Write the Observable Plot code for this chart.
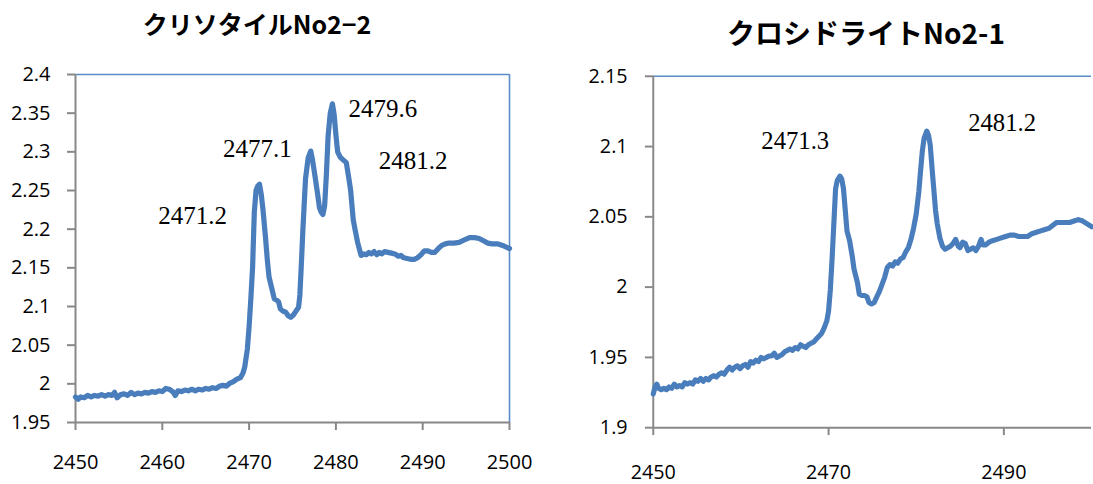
<!DOCTYPE html>
<html>
<head>
<meta charset="utf-8">
<script src="https://cdn.jsdelivr.net/npm/d3@7"></script>
<script src="https://cdn.jsdelivr.net/npm/@observablehq/plot@0.6"></script>
<style>
  html, body { margin: 0; padding: 0; background: #fff; }
  #root { position: relative; width: 1093px; height: 484px; overflow: hidden; background: #fff; }
  .title { position: absolute; text-align: center; font-family: "Noto Sans CJK JP", "Noto Sans", sans-serif; font-weight: bold; color: #000; line-height: 1; white-space: nowrap; }
  .panel { position: absolute; }
</style>
</head>
<body>
<div id="root">
  <div class="title" id="titleA"></div>
  <div class="title" id="titleB"></div>
  <div class="panel" id="panelA"></div>
  <div class="panel" id="panelB"></div>
</div>
<script>
// Sulfur K-edge XANES spectra: photon energy (eV) vs. normalised absorbance

// --- Chrysotile No2-2 ---
const titleA = "クリソタイルNo2−2";
const chrysotileEnergy = [
  2450.0, 2450.3, 2450.6, 2451.0, 2451.4, 2451.8, 2452.2, 2452.6, 2453.0, 2453.4,
  2453.8, 2454.2, 2454.5, 2454.8, 2455.2, 2455.6, 2456.0, 2456.4, 2456.8, 2457.2,
  2457.6, 2458.0, 2458.4, 2458.8, 2459.2, 2459.6, 2460.0, 2460.4, 2460.8, 2461.2,
  2461.5, 2461.8, 2462.2, 2462.6, 2463.0, 2463.4, 2463.8, 2464.2, 2464.6, 2465.0,
  2465.4, 2465.8, 2466.2, 2466.6, 2467.0, 2467.4, 2467.8, 2468.2, 2468.6, 2469.0,
  2469.3, 2469.5, 2469.8, 2470.0, 2470.2, 2470.4, 2470.6, 2470.8, 2471.0, 2471.2,
  2471.4, 2471.6, 2471.9, 2472.1, 2472.3, 2472.6, 2472.9, 2473.2, 2473.4, 2473.6,
  2473.9, 2474.2, 2474.5, 2474.8, 2475.1, 2475.4, 2475.7, 2475.85, 2476.0, 2476.2,
  2476.5, 2476.8, 2477.1, 2477.3, 2477.6, 2477.9, 2478.1, 2478.3, 2478.5, 2478.7,
  2478.9, 2479.1, 2479.35, 2479.6, 2479.8, 2480.0, 2480.2, 2480.5, 2480.8, 2481.0,
  2481.2, 2481.5, 2481.7, 2482.0, 2482.2, 2482.5, 2482.9, 2483.2, 2483.5, 2483.8,
  2484.1, 2484.4, 2484.7, 2485.0, 2485.3, 2485.6, 2486.0, 2486.4, 2486.8, 2487.2,
  2487.5, 2487.8, 2488.2, 2488.6, 2489.0, 2489.4, 2489.8, 2490.2, 2490.6, 2491.0,
  2491.4, 2491.8, 2492.2, 2492.6, 2493.0, 2493.6, 2494.2, 2494.8, 2495.4, 2496.0,
  2496.5, 2497.0, 2497.5, 2498.0, 2498.6, 2499.2, 2500.0
];
const chrysotileAbs = [
  1.983, 1.980, 1.983, 1.982, 1.985, 1.983, 1.985, 1.984, 1.986, 1.984,
  1.986, 1.985, 1.989, 1.982, 1.986, 1.987, 1.985, 1.989, 1.986, 1.988,
  1.987, 1.989, 1.988, 1.990, 1.989, 1.991, 1.990, 1.994, 1.993, 1.990,
  1.985, 1.991, 1.990, 1.992, 1.991, 1.993, 1.991, 1.993, 1.992, 1.994,
  1.993, 1.995, 1.994, 1.997, 1.998, 1.997, 2.001, 2.003, 2.006, 2.008,
  2.014, 2.022, 2.045, 2.074, 2.110, 2.150, 2.222, 2.250, 2.256, 2.258,
  2.245, 2.225, 2.188, 2.160, 2.138, 2.124, 2.110, 2.108, 2.106, 2.097,
  2.094, 2.093, 2.088, 2.086, 2.089, 2.094, 2.099, 2.115, 2.150, 2.200,
  2.265, 2.292, 2.301, 2.290, 2.268, 2.245, 2.228, 2.222, 2.219, 2.230,
  2.270, 2.320, 2.350, 2.362, 2.348, 2.322, 2.300, 2.293, 2.290, 2.288,
  2.286, 2.265, 2.250, 2.212, 2.200, 2.183, 2.166, 2.168, 2.167, 2.170,
  2.168, 2.171, 2.167, 2.170, 2.168, 2.171, 2.170, 2.169, 2.168, 2.165,
  2.166, 2.163, 2.162, 2.161, 2.161, 2.163, 2.167, 2.172, 2.172, 2.170,
  2.170, 2.175, 2.179, 2.181, 2.182, 2.182, 2.183, 2.186, 2.189, 2.189,
  2.188, 2.185, 2.182, 2.181, 2.181, 2.179, 2.175
];
// peak energies and where their labels sit
const chrysotilePeaks = [2471.2, 2477.1, 2479.6, 2481.2];
const chrysotileLabelX = [2463.5, 2470.95, 2485.4, 2488.9];
const chrysotileLabelY = [2.217, 2.304, 2.355, 2.288];
const xTicksA = [2450, 2460, 2470, 2480, 2490, 2500];
const yTicksA = [1.95, 2, 2.05, 2.1, 2.15, 2.2, 2.25, 2.3, 2.35, 2.4];

// --- Crocidolite No2-1 ---
const titleB = "クロシドライトNo2-1";
const crocidoliteEnergy = [
  2450.0, 2450.2, 2450.4, 2450.6, 2450.9, 2451.2, 2451.5, 2451.8, 2452.1, 2452.4,
  2452.7, 2453.0, 2453.3, 2453.6, 2453.9, 2454.2, 2454.5, 2454.8, 2455.1, 2455.4,
  2455.7, 2456.0, 2456.3, 2456.6, 2456.9, 2457.2, 2457.5, 2457.8, 2458.1, 2458.4,
  2458.7, 2459.0, 2459.3, 2459.6, 2459.9, 2460.2, 2460.5, 2460.8, 2461.1, 2461.4,
  2461.7, 2462.0, 2462.3, 2462.6, 2462.9, 2463.2, 2463.5, 2463.8, 2464.1, 2464.4,
  2464.7, 2465.0, 2465.3, 2465.6, 2465.9, 2466.2, 2466.5, 2466.8, 2467.1, 2467.4,
  2467.7, 2468.0, 2468.3, 2468.6, 2468.9, 2469.2, 2469.5, 2469.8, 2470.0, 2470.2,
  2470.4, 2470.6, 2470.8, 2471.0, 2471.3, 2471.5, 2471.7, 2471.9, 2472.1, 2472.4,
  2472.7, 2472.9, 2473.1, 2473.3, 2473.5, 2473.8, 2474.1, 2474.4, 2474.6, 2474.9,
  2475.2, 2475.5, 2475.8, 2476.1, 2476.4, 2476.7, 2477.0, 2477.3, 2477.6, 2477.9,
  2478.2, 2478.5, 2478.8, 2479.1, 2479.4, 2479.7, 2480.0, 2480.3, 2480.5, 2480.7,
  2480.9, 2481.2, 2481.4, 2481.6, 2481.8, 2482.0, 2482.2, 2482.4, 2482.7, 2483.0,
  2483.3, 2483.6, 2483.9, 2484.2, 2484.5, 2484.8, 2485.0, 2485.3, 2485.6, 2485.9,
  2486.2, 2486.5, 2486.8, 2487.1, 2487.4, 2487.6, 2487.9, 2488.3, 2488.7, 2489.2,
  2489.7, 2490.2, 2490.7, 2491.2, 2491.7, 2492.2, 2492.7, 2493.2, 2493.7, 2494.2,
  2494.7, 2495.2, 2495.6, 2496.0, 2496.5, 2497.0, 2497.5, 2498.0, 2498.5, 2499.0,
  2499.5, 2500.0
];
const crocidoliteAbs = [
  1.924, 1.929, 1.931, 1.928, 1.927, 1.928, 1.927, 1.929, 1.928, 1.931,
  1.929, 1.930, 1.929, 1.932, 1.931, 1.932, 1.931, 1.934, 1.933, 1.935,
  1.933, 1.935, 1.934, 1.936, 1.937, 1.936, 1.938, 1.939, 1.938, 1.941,
  1.943, 1.941, 1.943, 1.944, 1.942, 1.944, 1.945, 1.943, 1.947, 1.946,
  1.948, 1.947, 1.950, 1.949, 1.950, 1.951, 1.951, 1.953, 1.950, 1.951,
  1.952, 1.954, 1.955, 1.956, 1.955, 1.957, 1.956, 1.959, 1.958, 1.957,
  1.959, 1.960, 1.961, 1.963, 1.965, 1.967, 1.971, 1.976, 1.983, 1.998,
  2.020, 2.045, 2.070, 2.076, 2.079, 2.077, 2.070, 2.055, 2.040, 2.033,
  2.022, 2.013, 2.008, 2.003, 1.995, 1.994, 1.994, 1.993, 1.989, 1.988,
  1.989, 1.993, 1.997, 2.002, 2.007, 2.014, 2.016, 2.015, 2.018, 2.017,
  2.020, 2.021, 2.025, 2.028, 2.034, 2.042, 2.052, 2.068, 2.083, 2.097,
  2.106, 2.111, 2.108, 2.101, 2.085, 2.070, 2.055, 2.045, 2.035, 2.029,
  2.027, 2.028, 2.029, 2.031, 2.034, 2.029, 2.028, 2.032, 2.031, 2.026,
  2.027, 2.028, 2.026, 2.029, 2.034, 2.030, 2.030, 2.032, 2.033, 2.034,
  2.035, 2.036, 2.037, 2.037, 2.036, 2.036, 2.036, 2.038, 2.039, 2.040,
  2.041, 2.042, 2.044, 2.046, 2.046, 2.046, 2.046, 2.047, 2.048, 2.047,
  2.045, 2.043
];
const crocidolitePeaks = [2471.3, 2481.2];
const crocidoliteLabelX = [2466.2, 2489.8];
const crocidoliteLabelY = [2.104, 2.117];
const xTicksB = [2450, 2470, 2490];
const yTicksB = [1.9, 1.95, 2, 2.05, 2.1, 2.15];

const lineColor = "#4a7dbb";
const axisColor = "#888888";
const frameColor = "#5b8bc8";
const fmt = d => String(+d.toFixed(2));

function spectrum(energy, abs) {
  return energy.map((e, i) => ({energy: e, abs: abs[i]}));
}
function peakLabels(peaks, lx, ly) {
  return peaks.map((p, i) => ({peak: p, x: lx[i], y: ly[i]}));
}

function panel({data, labels, xDomain, yDomain, xTicks, yTicks, width, height,
                margins, xPad, yPad, rightFrame}) {
  return Plot.plot({
    width, height,
    ...margins,
    x: {domain: xDomain},
    y: {domain: yDomain},
    style: {fontFamily: "'Open Sans', sans-serif", fontSize: "20px", color: "#000", background: "transparent", overflow: "visible"},
    marks: [
      Plot.ruleY([yDomain[1]], {stroke: frameColor, strokeWidth: 1.6}),
      rightFrame ? Plot.ruleX([xDomain[1]], {stroke: frameColor, strokeWidth: 1.6}) : null,
      Plot.axisY(yTicks, {tickSize: 8, tickPadding: yPad, tickFormat: fmt, stroke: axisColor, strokeWidth: 2, label: null}),
      Plot.axisX(xTicks, {tickSize: 8, tickPadding: xPad, tickFormat: d => String(d), stroke: axisColor, strokeWidth: 2, label: null}),
      Plot.ruleX([xDomain[0]], {stroke: axisColor, strokeWidth: 2}),
      Plot.ruleY([yDomain[0]], {stroke: axisColor, strokeWidth: 2}),
      Plot.line(data, {x: "energy", y: "abs", stroke: lineColor, strokeWidth: 5.2, strokeLinejoin: "round", strokeLinecap: "round"}),
      Plot.text(labels, {x: "x", y: "y", text: d => d.peak.toFixed(1), fontFamily: "'Liberation Serif', serif", fontSize: 25, fill: "#000", textAnchor: "middle"})
    ]
  });
}

document.getElementById("titleA").textContent = titleA;
Object.assign(document.getElementById("titleA").style, {left: "0px", width: "514px", top: "11px", fontSize: "25px"});
document.getElementById("titleB").textContent = titleB;
Object.assign(document.getElementById("titleB").style, {left: "666px", width: "400px", top: "18px", fontSize: "28px"});

const pA = document.getElementById("panelA");
Object.assign(pA.style, {left: "0px", top: "60px"});
pA.append(panel({
  data: spectrum(chrysotileEnergy, chrysotileAbs),
  labels: peakLabels(chrysotilePeaks, chrysotileLabelX, chrysotileLabelY),
  xDomain: [2450, 2500], yDomain: [1.95, 2.4],
  xTicks: xTicksA, yTicks: yTicksA,
  width: 545, height: 424,
  margins: {marginLeft: 75, marginRight: 36, marginTop: 14, marginBottom: 62},
  xPad: 24, yPad: 17, rightFrame: true
}));

const pB = document.getElementById("panelB");
Object.assign(pB.style, {left: "560px", top: "60px"});
pB.append(panel({
  data: spectrum(crocidoliteEnergy, crocidoliteAbs),
  labels: peakLabels(crocidolitePeaks, crocidoliteLabelX, crocidoliteLabelY),
  xDomain: [2450, 2500], yDomain: [1.9, 2.15],
  xTicks: xTicksB, yTicks: yTicksB,
  width: 540, height: 424,
  margins: {marginLeft: 94, marginRight: 2, marginTop: 16, marginBottom: 52},
  xPad: 30, yPad: 18, rightFrame: false
}));
</script>
</body>
</html>
